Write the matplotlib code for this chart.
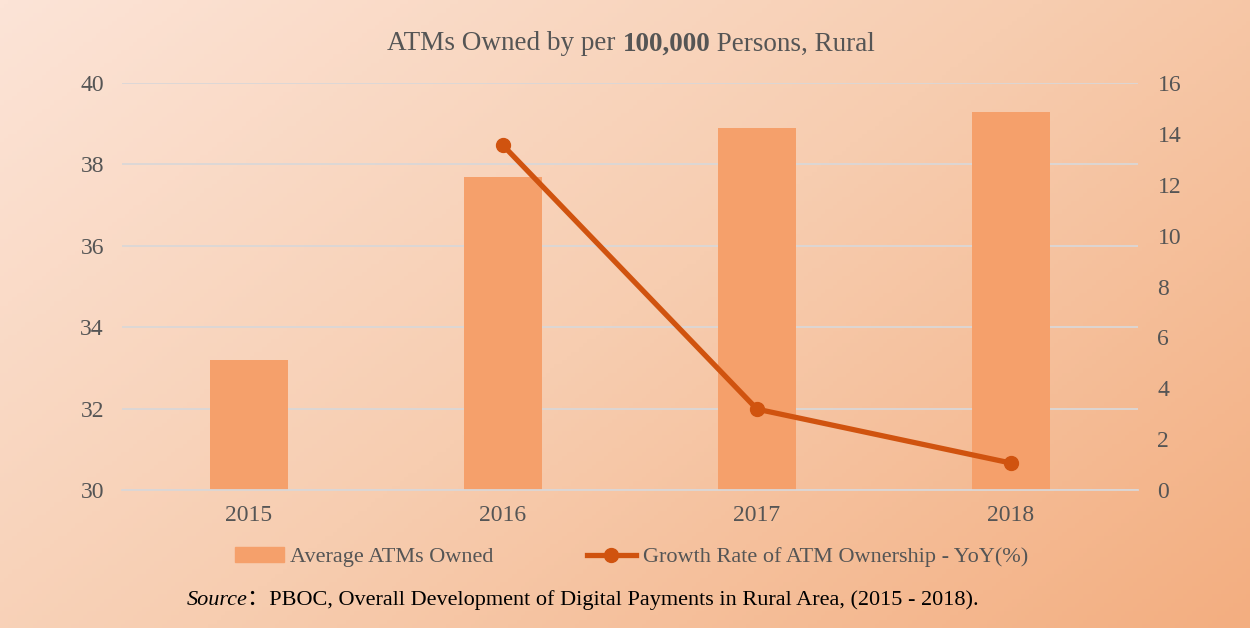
import numpy as np
import matplotlib.pyplot as plt
from matplotlib.colors import LinearSegmentedColormap
from matplotlib.patches import Patch
from matplotlib.lines import Line2D

# data
years = ['2015', '2016', '2017', '2018']
atms_owned = [33.2, 37.7, 38.9, 39.3]
growth_years = ['2016', '2017', '2018']
growth_rate = [13.55, 3.18, 1.06]

left_ticks = [30, 32, 34, 36, 38, 40]
right_ticks = [0, 2, 4, 6, 8, 10, 12, 14, 16]

bar_color = '#f5a06b'
line_color = '#d0530f'
grid_color = '#dad7d7'
text_color = '#555555'
serif = 'Liberation Serif'

fig = plt.figure(figsize=(12.5, 6.28), dpi=100)

# gradient background, light peach top-left to deeper orange bottom-right
bg = fig.add_axes([0, 0, 1, 1], zorder=-10)
gx, gy = np.meshgrid(np.linspace(0, 1, 300), np.linspace(0, 1, 150))
grad = (gx * 0.6 + gy * 0.4)
cmap = LinearSegmentedColormap.from_list('peach', ['#fce4d7', '#f7cdb0', '#f3ae80'])
bg.imshow(grad, cmap=cmap, aspect='auto', extent=[0, 1, 0, 1], origin='upper')
bg.axis('off')

ax = fig.add_axes([0.0976, 0.2197, 0.8128, 0.6481])
ax.patch.set_alpha(0)
x = np.arange(len(years))
ax.bar(x, atms_owned, width=0.31, color=bar_color, zorder=2)
ax.set_ylim(30, 40)
ax.set_xlim(-0.5, 3.5)
ax.set_yticks(left_ticks)
ax.set_xticks(x)
ax.set_xticklabels(years)
ax.yaxis.grid(True, color=grid_color, linewidth=1.3, zorder=0)
ax.set_axisbelow(True)
for s in ['top', 'right', 'left']:
    ax.spines[s].set_visible(False)
ax.spines['bottom'].set_color(grid_color)
ax.spines['bottom'].set_linewidth(1.3)
ax.tick_params(length=0, labelsize=17, labelcolor=text_color)
ax.tick_params(axis='x', pad=11)
ax.tick_params(axis='y', pad=13)
for lab in ax.get_xticklabels() + ax.get_yticklabels():
    lab.set_fontfamily(serif)

ax2 = ax.twinx()
gx_pos = [years.index(y) for y in growth_years]
ax2.plot(gx_pos, growth_rate, color=line_color, linewidth=3.8, marker='o',
         markersize=10, zorder=3)
ax2.set_ylim(0, 16)
ax2.set_yticks(right_ticks)
for s in ['top', 'right', 'left', 'bottom']:
    ax2.spines[s].set_visible(False)
ax2.tick_params(length=0, labelsize=17, labelcolor=text_color, pad=14)
for lab in ax2.get_yticklabels():
    lab.set_fontfamily(serif)

# legend
handles = [Patch(color=bar_color),
           Line2D([0], [0], color=line_color, linewidth=3.8, marker='o', markersize=10)]
fig.legend(handles, ['Average ATMs Owned', 'Growth Rate of ATM Ownership - YoY(%)'],
           loc='center', bbox_to_anchor=(0.505, 0.113), ncol=2, frameon=False,
           prop={'family': serif, 'size': 16}, labelcolor=text_color,
           handlelength=2.2, handletextpad=0.3, columnspacing=4.2)

# title with bold number, built from three pieces
fig.canvas.draw()
r = fig.canvas.get_renderer()
parts = [('ATMs Owned by per ', 'normal'), ('100,000', 'bold'), (' Persons, Rural', 'normal')]
objs = []
for txt, w in parts:
    objs.append(fig.text(0, 0.93, txt, fontsize=19.5, fontweight=w, family=serif,
                         color=text_color, va='center', ha='left'))
widths = [o.get_window_extent(r).width for o in objs]
total = sum(widths)
xpos = (fig.bbox.width * 0.505 - total / 2)
for o, wdt in zip(objs, widths):
    o.set_x(xpos / fig.bbox.width)
    xpos += wdt

# source line
t1 = fig.text(0.149, 0.044, 'Source', fontsize=16, style='italic', family=serif,
              color='black', va='center', ha='left')
w1 = t1.get_window_extent(r).width
fig.text(0.149 + w1 / fig.bbox.width, 0.044,
         '：PBOC, Overall Development of Digital Payments in Rural Area, (2015 - 2018).',
         fontsize=16, family=[serif, 'Noto Sans CJK SC'], color='black', va='center', ha='left')

fig.savefig('out.png', dpi=100)
